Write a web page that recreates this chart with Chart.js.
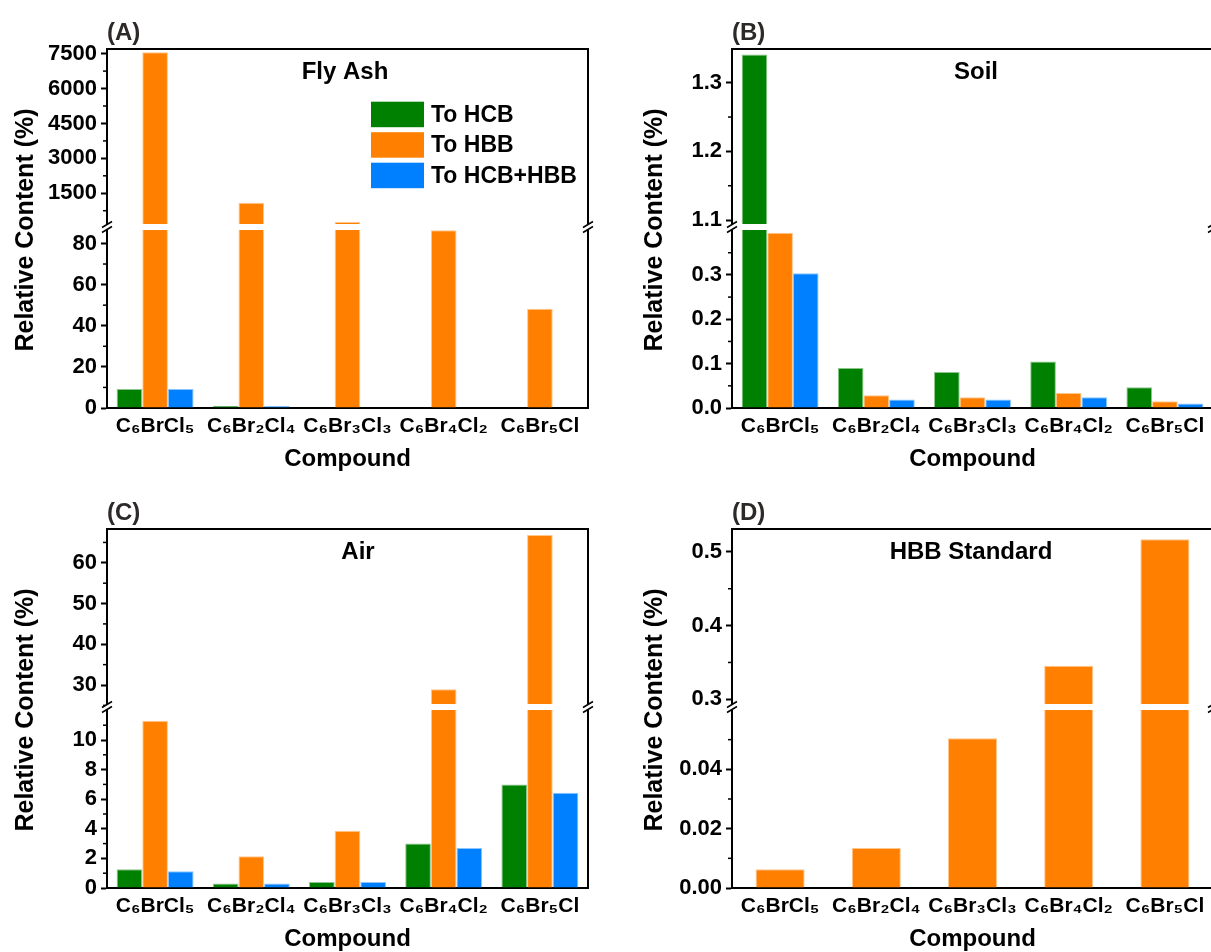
<!DOCTYPE html>
<html><head><meta charset="utf-8">
<script src="https://cdn.jsdelivr.net/npm/chart.js@4.4.1/dist/chart.umd.min.js"></script>
<style>
html,body{margin:0;padding:0;background:#fff;overflow:hidden;width:1211px;height:952px;position:relative;}
canvas{position:absolute;}
</style></head><body>
<canvas id="cA" width="605" height="480" style="left:0px;top:0px"></canvas>
<canvas id="cB" width="605" height="480" style="left:625px;top:0px"></canvas>
<canvas id="cC" width="605" height="480" style="left:0px;top:480px"></canvas>
<canvas id="cD" width="605" height="480" style="left:625px;top:480px"></canvas>
<script>
// ---------- data ----------
const compounds = ['C\u2086BrCl\u2085','C\u2086Br\u2082Cl\u2084','C\u2086Br\u2083Cl\u2083','C\u2086Br\u2084Cl\u2082','C\u2086Br\u2085Cl'];
const seriesNames = ['To HCB','To HBB','To HCB+HBB'];
const seriesColors = ['#008000','#ff8000','#0080ff'];

const flyAshHCB = [9.2, 1.1, 0, 0, 0];
const flyAshHBB = [7560, 1090, 265, 86.4, 48.3];
const flyAshSum = [9.2, 1.0, 0, 0, 0];

const soilHCB = [1.341, 0.090, 0.081, 0.105, 0.047];
const soilHBB = [0.395, 0.029, 0.024, 0.034, 0.015];
const soilSum = [0.304, 0.019, 0.019, 0.024, 0.010];

const airHCB = [1.27, 0.30, 0.41, 3.00, 7.00];
const airHBB = [11.3, 2.15, 3.86, 28.95, 66.8];
const airSum = [1.13, 0.30, 0.41, 2.71, 6.43];

const stdHBB = [0.0063, 0.0135, 0.0505, 0.3455, 0.517];

const flyAshLowerTicks = [0, 20, 40, 60, 80];
const flyAshUpperTicks = [1500, 3000, 4500, 6000, 7500];
const soilLowerTicks = [0, 0.1, 0.2, 0.3];
const soilUpperTicks = [1.1, 1.2, 1.3];
const airLowerTicks = [0, 2, 4, 6, 8, 10];
const airUpperTicks = [30, 40, 50, 60];
const stdLowerTicks = [0, 0.02, 0.04];
const stdUpperTicks = [0.3, 0.4, 0.5];

// ---------- setup ----------
const FONT = "'Liberation Sans', Arial, Helvetica, sans-serif";
Chart.defaults.font.family = FONT;
Chart.defaults.font.weight = 'bold';
Chart.defaults.color = '#000';
Chart.defaults.animation = false;

function alpha(hex, a){
  const r = parseInt(hex.slice(1,3),16), g = parseInt(hex.slice(3,5),16), b = parseInt(hex.slice(5,7),16);
  return 'rgba(' + r + ',' + g + ',' + b + ',' + a + ')';
}

function makeDatasets(series, names, colors, lower, upper, catPct){
  const ds = [];
  series.forEach((vals, i) => {
    ds.push({label: names[i], data: vals.map(v => v == null ? null : Math.min(v, lower[1])),
      yAxisID: 'yLow', stack: 's' + i, backgroundColor: colors[i], borderColor: alpha(colors[i], 0.45),
      borderWidth: 1, categoryPercentage: catPct, barPercentage: 1});
  });
  series.forEach((vals, i) => {
    ds.push({label: names[i], data: vals.map(v => (v != null && v > upper[0]) ? v : null),
      yAxisID: 'yUp', stack: 's' + i, base: upper[0], backgroundColor: colors[i], borderColor: alpha(colors[i], 0.45),
      borderWidth: 1, categoryPercentage: catPct, barPercentage: 1});
  });
  return ds;
}

function yScale(range, ticksArr, dec, weight, stackWeight){
  return {
    type: 'linear', position: 'left', stack: 'v', stackWeight: stackWeight, weight: weight, stacked: false,
    min: range[0], max: range[1],
    afterBuildTicks: s => { s.ticks = ticksArr.map(v => ({value: v})); },
    afterFit: s => { s.width = 107; },
    ticks: {callback: v => Number(v).toFixed(dec), font: {size: 22, weight: 'bold'}, color: '#000', padding: 4, autoSkip: false},
    grid: {display: true, drawOnChartArea: false, drawTicks: true, tickLength: 6, tickWidth: 2, tickColor: '#000'},
    border: {display: true, width: 2, color: '#000'}
  };
}

function decor(cfg){
  return {
    id: 'decor',
    afterDraw(chart){
      const ctx = chart.ctx, a = chart.chartArea;
      const up = chart.scales.yUp, low = chart.scales.yLow;
      const breakY = up.bottom;
      ctx.save();
      // minor ticks
      ctx.strokeStyle = '#000'; ctx.lineWidth = 1.5;
      [[up, cfg.upperTicks], [low, cfg.lowerTicks]].forEach(([s, t]) => {
        const step = t[1] - t[0];
        for (let k = -1; k < t.length + 2; k++) {
          const v = t[0] + step * (k + 0.5);
          if (v < s.min - 1e-9 || v > s.max + 1e-9) continue;
          const y = s.getPixelForValue(v);
          ctx.beginPath(); ctx.moveTo(a.left - 4, y); ctx.lineTo(a.left, y); ctx.stroke();
        }
      });
      // frame
      ctx.lineWidth = 2;
      ctx.beginPath(); ctx.moveTo(a.left - 1, a.top); ctx.lineTo(a.right, a.top); ctx.lineTo(a.right, a.bottom); ctx.stroke();
      // break band
      ctx.fillStyle = '#fff';
      ctx.fillRect(a.left + 1, breakY - 3, a.right - a.left - 2, 6);
      ctx.lineWidth = 1.5;
      [a.left, a.right].forEach(x => {
        ctx.fillStyle = '#fff';
        ctx.fillRect(x - 2, breakY - 2.5, 4, 5);
        ctx.beginPath();
        ctx.moveTo(x - 5, breakY - 2.5 + 3); ctx.lineTo(x + 5, breakY - 2.5 - 3);
        ctx.moveTo(x - 5, breakY + 2.5 + 3); ctx.lineTo(x + 5, breakY + 2.5 - 3);
        ctx.stroke();
      });
      // panel letter
      ctx.textBaseline = 'middle';
      ctx.fillStyle = '#2e2929';
      ctx.font = 'bold 24px ' + FONT;
      ctx.textAlign = 'left';
      ctx.fillText(cfg.letter, a.left, 33);
      // inner title
      ctx.fillStyle = '#000';
      ctx.textAlign = 'center';
      ctx.fillText(cfg.title, cfg.titleX, 72);
      // y title
      ctx.save();
      ctx.font = 'bold 25px ' + FONT;
      ctx.translate(cfg.yTitleX, 230);
      ctx.rotate(-Math.PI / 2);
      ctx.fillText('Relative Content (%)', 0, 0);
      ctx.restore();
      // legend
      if (cfg.legend) {
        ctx.font = 'bold 23px ' + FONT;
        ctx.textAlign = 'left';
        cfg.names.forEach((n, i) => {
          const y = 101.7 + i * 30.5;
          ctx.fillStyle = cfg.colors[i];
          ctx.fillRect(371, y, 53, 25.5);
          ctx.fillStyle = '#000';
          ctx.fillText(n, 431, y + 13.5);
        });
      }
      ctx.restore();
    }
  };
}

function makePanel(cfg){
  const ctx = document.getElementById(cfg.id).getContext('2d');
  new Chart(ctx, {
    type: 'bar',
    data: {labels: compounds, datasets: makeDatasets(cfg.series, cfg.names, cfg.colors, cfg.lower, cfg.upper, cfg.catPct)},
    options: {
      responsive: false, animation: false, events: [],
      layout: {padding: {top: 49, right: 17, left: 0, bottom: 0}},
      plugins: {legend: {display: false}, tooltip: {enabled: false}},
      scales: {
        x: {
          type: 'category', offset: true,
          grid: {display: false, drawTicks: false},
          border: {display: true, width: 2, color: '#000'},
          ticks: {font: {size: 21, weight: 'bold'}, color: '#000', padding: 6, maxRotation: 0, autoSkip: false},
          title: {display: true, text: 'Compound', font: {size: 24, weight: 'bold'}, color: '#000', padding: {top: 0, bottom: 6}},
          afterFit: s => { s.height = 72; }
        },
        yUp: yScale(cfg.upper, cfg.upperTicks, cfg.upperDec, 1, 178),
        yLow: yScale(cfg.lower, cfg.lowerTicks, cfg.lowerDec, 0, 181)
      }
    },
    plugins: [decor(cfg)]
  });
}

makePanel({id: 'cA', letter: '(A)', title: 'Fly Ash', titleX: 345, yTitleX: 26, legend: true,
  series: [flyAshHCB, flyAshHBB, flyAshSum], names: seriesNames, colors: seriesColors,
  lower: [0, 88], upper: [50, 7700], lowerTicks: flyAshLowerTicks, upperTicks: flyAshUpperTicks,
  lowerDec: 0, upperDec: 0, catPct: 0.8});
makePanel({id: 'cB', letter: '(B)', title: 'Soil', titleX: 351, yTitleX: 30, legend: false,
  series: [soilHCB, soilHBB, soilSum], names: seriesNames, colors: seriesColors,
  lower: [0, 0.408], upper: [1.09, 1.349], lowerTicks: soilLowerTicks, upperTicks: soilUpperTicks,
  lowerDec: 1, upperDec: 1, catPct: 0.8});
makePanel({id: 'cC', letter: '(C)', title: 'Air', titleX: 358, yTitleX: 26, legend: false,
  series: [airHCB, airHBB, airSum], names: seriesNames, colors: seriesColors,
  lower: [0, 12.23], upper: [24.6, 68.3], lowerTicks: airLowerTicks, upperTicks: airUpperTicks,
  lowerDec: 0, upperDec: 0, catPct: 0.8});
makePanel({id: 'cD', letter: '(D)', title: 'HBB Standard', titleX: 346, yTitleX: 30, legend: false,
  series: [stdHBB], names: ['To HBB'], colors: ['#ff8000'],
  lower: [0, 0.061], upper: [0.2896, 0.531], lowerTicks: stdLowerTicks, upperTicks: stdUpperTicks,
  lowerDec: 2, upperDec: 1, catPct: 0.51});
</script>
</body></html>
